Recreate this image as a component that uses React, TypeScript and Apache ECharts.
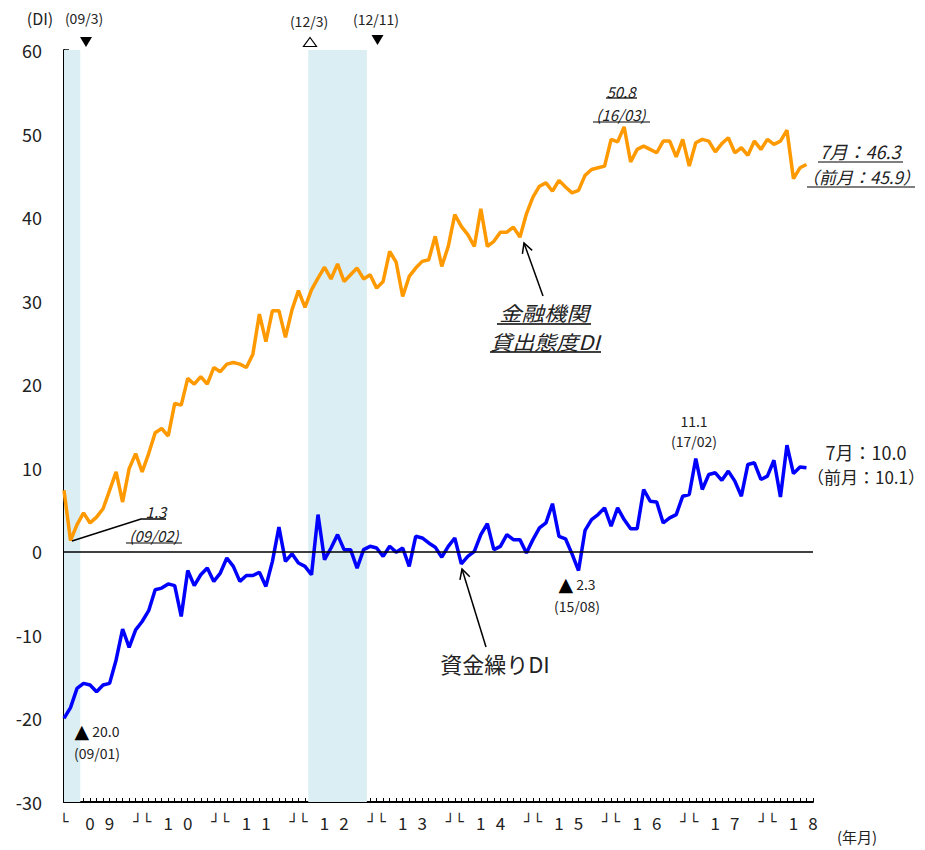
import React, { useEffect, useRef } from "react";
import * as echarts from "echarts";

// 金融機関貸出態度DI (2009/01 - 2018/07)
const lendingDI: number[] = [
  7.3, 1.3, 3.2, 4.6, 3.4, 4.1, 5.1, 7.3, 9.5, 5.9, 9.9, 11.7,
  9.5, 11.7, 14.2, 14.7, 13.8, 17.7, 17.5, 20.7, 20.0, 20.9, 20.0, 22.0,
  21.5, 22.4, 22.6, 22.4, 22.0, 23.6, 28.4, 25.1, 28.8, 28.8, 25.6, 28.9,
  31.2, 29.2, 31.3, 32.7, 34.0, 32.6, 34.4, 32.3, 33.1, 33.9, 32.6, 33.1,
  31.5, 32.3, 35.9, 34.6, 30.5, 32.9, 33.9, 34.7, 34.9, 37.7, 34.1, 36.5,
  40.3, 38.9, 37.9, 36.5, 41.0, 36.5, 37.1, 38.2, 38.2, 38.8, 37.6, 40.4,
  42.4, 43.7, 44.1, 43.1, 44.4, 43.6, 42.9, 43.2, 45.0, 45.7, 45.9, 46.1,
  49.3, 49.0, 50.8, 46.6, 48.1, 48.5, 48.1, 47.7, 49.1, 49.1, 47.2, 49.3,
  46.1, 48.9, 49.3, 49.1, 47.8, 48.8, 49.5, 47.7, 48.3, 47.4, 49.1, 48.1,
  49.3, 48.7, 49.1, 50.4, 44.6, 45.9, 46.3,
];

// 資金繰りDI (2009/01 - 2018/07)
const fundingDI: number[] = [
  -20.0, -18.7, -16.4, -15.8, -16.0, -16.8, -16.0, -15.8, -13.0, -9.3, -11.5, -9.4,
  -8.4, -7.1, -4.6, -4.4, -3.9, -4.1, -7.8, -2.3, -4.1, -2.8, -2.0, -3.6,
  -2.6, -0.8, -1.8, -3.6, -2.9, -2.9, -2.5, -4.2, -1.2, 2.9, -1.2, -0.3,
  -1.4, -1.8, -2.8, 4.4, -1.0, 0.4, 2.0, 0.2, 0.2, -2.0, 0.2, 0.6,
  0.4, -0.6, 0.6, -0.1, 0.4, -1.8, 1.8, 1.6, 1.0, 0.5, -0.7, 0.6,
  1.6, -1.5, -0.6, 0.0, 2.0, 3.3, 0.2, 0.6, 2.0, 1.4, 1.4, -0.2,
  1.4, 2.8, 3.4, 5.7, 1.8, 1.5, -0.3, -2.3, 2.5, 3.8, 4.4, 5.2,
  3.0, 5.2, 3.8, 2.7, 2.7, 7.4, 6.0, 5.9, 3.4, 4.0, 4.4, 6.6,
  6.8, 11.1, 7.4, 9.2, 9.4, 8.5, 9.6, 8.4, 6.6, 10.4, 10.6, 8.6,
  9.0, 10.9, 6.5, 12.7, 9.3, 10.1, 10.0,
];

// year tick labels (two characters each, spread across the year)
const yearLabels: string[] = ["09", "10", "11", "12", "13", "14", "15", "16", "17", "18"];

// shaded periods (month index, 0 = 2009/01): 09/1-09/3, 12/3-12/11
const shadedPeriods: [number, number][] = [
  [0, 2.5],
  [37.5, 46.5],
];

const FONT = '"Noto Sans CJK JP", "Noto Sans", sans-serif';
const BOXFONT = '"DejaVu Sans", sans-serif';
const TXT = "#222";

function buildTickLabels(): Record<number, string> {
  const map: Record<number, string> = {};
  yearLabels.forEach((y, k) => {
    const base = k * 12;
    map[base] = k === 0 ? "{b|└}" : "{b|┘└}";
    map[base + 4] = y[0];
    map[base + 7] = y[1];
  });
  return map;
}

function text(x: number, y: number, t: string, fontSize: number, extra: any = {}, scaleX = 1) {
  return {
    type: "text",
    x,
    y,
    scaleX,
    z: 100,
    silent: true,
    style: {
      text: t,
      fontSize,
      fontFamily: FONT,
      fill: TXT,
      align: "center",
      verticalAlign: "middle",
      textAlign: "center",
      textVerticalAlign: "middle",
      ...extra,
    },
  };
}

const triRich = { t: { fontSize: 19, fontFamily: BOXFONT, fill: "#000" } };

function hline(x1: number, x2: number, y: number, w = 1.2) {
  return {
    type: "line",
    z: 100,
    silent: true,
    shape: { x1, y1: y, x2, y2: y },
    style: { stroke: "#000", lineWidth: w },
  };
}

function arrow(x1: number, y1: number, x2: number, y2: number) {
  const dx = x2 - x1;
  const dy = y2 - y1;
  const len = Math.sqrt(dx * dx + dy * dy);
  const bx = -dx / len;
  const by = -dy / len;
  const a = (28 * Math.PI) / 180;
  const L = 11;
  const r1 = [bx * Math.cos(a) - by * Math.sin(a), bx * Math.sin(a) + by * Math.cos(a)];
  const r2 = [bx * Math.cos(a) + by * Math.sin(a), -bx * Math.sin(a) + by * Math.cos(a)];
  return [
    {
      type: "line",
      z: 100,
      silent: true,
      shape: { x1, y1, x2, y2 },
      style: { stroke: "#000", lineWidth: 1.5 },
    },
    {
      type: "polyline",
      z: 100,
      silent: true,
      shape: {
        points: [
          [x2 + r1[0] * L, y2 + r1[1] * L],
          [x2, y2],
          [x2 + r2[0] * L, y2 + r2[1] * L],
        ],
      },
      style: { stroke: "#000", lineWidth: 1.5, fill: "none" },
    },
  ];
}

export default function App() {
  const ref = useRef<HTMLDivElement>(null);

  useEffect(() => {
    if (!ref.current) return;
    const chart = echarts.init(ref.current, undefined, { renderer: "svg" });
    const tickLabels = buildTickLabels();
    const it = { fontStyle: "italic" };

    const graphics: any[] = [
      text(40, 18, "(DI)", 16),
      text(84, 18, "(09/3)", 14),
      { type: "polygon", z: 100, silent: true, shape: { points: [[80, 37], [92, 37], [86, 47]] }, style: { fill: "#000" } },
      text(309, 21, "(12/3)", 14),
      {
        type: "polygon",
        z: 100,
        silent: true,
        shape: { points: [[303.5, 46.5], [316.5, 46.5], [310, 37.5]] },
        style: { fill: "#fff", stroke: "#000", lineWidth: 1.2 },
      },
      text(376, 19, "(12/11)", 14),
      { type: "polygon", z: 100, silent: true, shape: { points: [[371.5, 35], [383.5, 35], [377.5, 45]] }, style: { fill: "#000" } },

      // orange annotations
      text(621, 91, "50.8", 15, it),
      hline(606, 637, 98),
      text(621, 114, "(16/03)", 15, it),
      hline(593, 650, 122),
      text(860, 151, "7月：46.3", 18, it),
      hline(818, 903, 162),
      text(861, 176, "（前月：45.9）", 17, it),
      hline(807, 915, 187),
      text(156, 511, "1.3", 15, it),
      {
        type: "polyline",
        z: 100,
        silent: true,
        shape: { points: [[72, 541], [141, 519], [166, 519]] },
        style: { stroke: "#000", lineWidth: 1.5, fill: "none" },
      },
      text(154, 535, "(09/02)", 15, it),
      hline(126, 182, 543),
      text(544, 312, "金融機関", 20, it, 1.12),
      hline(497, 591, 324, 1.5),
      text(545, 341, "貸出態度DI", 20, it, 1.1),
      hline(490, 601, 352, 1.5),
      ...arrow(543, 296, 524, 243),

      // blue annotations
      text(97, 731, "{t|▲} 20.0", 14, { rich: triRich }),
      text(97, 753, "(09/01)", 14),
      text(577, 584, "{t|▲} 2.3", 14, { rich: triRich }),
      text(577, 606, "(15/08)", 14),
      text(694, 421, "11.1", 14),
      text(694, 441, "(17/02)", 14),
      text(866, 452, "7月：10.0", 18),
      text(866, 476, "（前月：10.1）", 17),
      text(495, 663, "資金繰りDI", 22),
      ...arrow(486, 647, 462, 569),

      text(857, 836, "(年月)", 15),
    ];

    chart.setOption({
      animation: false,
      grid: { left: 64, top: 50, width: 749, height: 752, containLabel: false },
      xAxis: {
        type: "value",
        min: 0,
        max: 115,
        interval: 1,
        splitLine: { show: false },
        axisLine: { onZero: false, lineStyle: { color: "#000", width: 2 } },
        axisTick: { inside: true, length: 4, lineStyle: { color: "#000", width: 1 } },
        axisLabel: {
          formatter: (v: number) => tickLabels[Math.round(v)] ?? "",
          fontSize: 17,
          fontFamily: FONT,
          color: "#222",
          margin: 12,
          rich: { b: { fontSize: 15, fontFamily: BOXFONT, color: "#222" } },
        },
      },
      yAxis: {
        type: "value",
        min: -30,
        max: 60,
        interval: 10,
        splitLine: { show: false },
        axisLine: { show: true, onZero: false, lineStyle: { color: "#000", width: 2 } },
        axisTick: { show: true, inside: true, length: 5, lineStyle: { color: "#000", width: 1.5 } },
        axisLabel: { fontSize: 18, fontFamily: FONT, color: "#222", margin: 22 },
      },
      series: [
        {
          type: "line",
          data: [],
          z: 1,
          silent: true,
          markArea: {
            silent: true,
            itemStyle: { color: "#DAEEF3" },
            data: shadedPeriods.map(([a, b]) => [{ xAxis: a }, { xAxis: b }]),
          },
        },
        {
          name: "金融機関貸出態度DI",
          type: "line",
          data: lendingDI.map((v, i) => [i, v]),
          showSymbol: false,
          z: 3,
          lineStyle: { color: "#FF9900", width: 3.5 },
          itemStyle: { color: "#FF9900" },
        },
        {
          name: "資金繰りDI",
          type: "line",
          data: fundingDI.map((v, i) => [i, v]),
          showSymbol: false,
          z: 3,
          lineStyle: { color: "#0000FF", width: 3.5 },
          itemStyle: { color: "#0000FF" },
          markLine: {
            silent: true,
            symbol: "none",
            label: { show: false },
            lineStyle: { color: "#000", width: 1.5, type: "solid" },
            data: [{ yAxis: 0 }],
          },
        },
      ],
      graphic: graphics,
    });
    return () => chart.dispose();
  }, []);

  return (
    <div
      ref={ref}
      style={{ position: "absolute", left: 0, top: 0, width: 925, height: 850, background: "#fff" }}
    />
  );
}
